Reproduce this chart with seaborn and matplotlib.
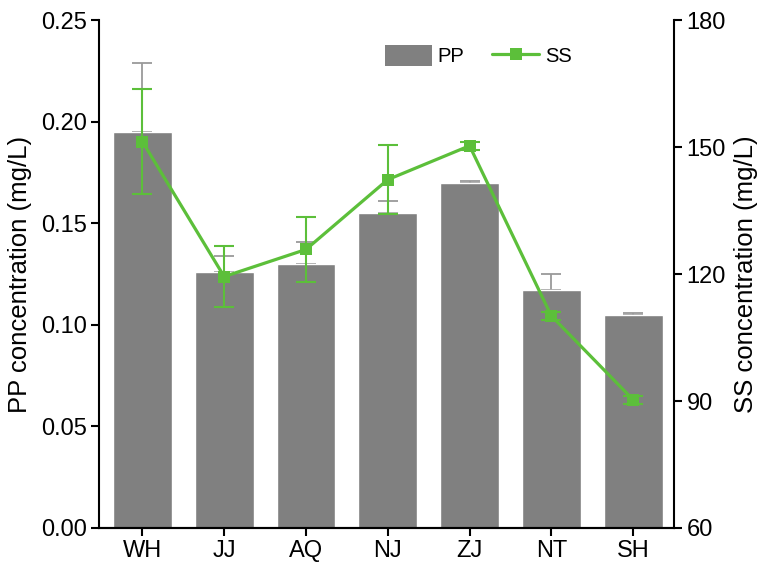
import matplotlib
matplotlib.use("Agg")
import matplotlib.pyplot as plt
import seaborn as sns
import pandas as pd
from matplotlib.patches import Patch
from matplotlib.lines import Line2D

sites = ["WH", "JJ", "AQ", "NJ", "ZJ", "NT", "SH"]
pp_mean = [0.195, 0.126, 0.130, 0.155, 0.170, 0.117, 0.105]
pp_err = [0.034, 0.008, 0.011, 0.006, 0.001, 0.008, 0.001]
ss_mean = [151.3, 119.4, 125.8, 142.3, 150.3, 110.1, 90.3]
ss_err = [12.3, 7.2, 7.7, 8.2, 1.0, 1.0, 1.0]

sns.set_theme(style="ticks")
plt.rcParams["font.family"] = ["Liberation Sans", "DejaVu Sans"]
plt.rcParams["text.color"] = "black"
plt.rcParams["axes.labelcolor"] = "black"

bar_color = "#808080"
green = "#5CBF3A"
tick_fs = 17
label_fs = 18.5

df = pd.DataFrame({"site": sites, "pp": pp_mean, "ss": ss_mean})

fig = plt.figure(figsize=(7.63, 5.65), dpi=100)
ax = fig.add_axes([0.1298, 0.0655, 0.7536, 0.899])

sns.barplot(data=df, x="site", y="pp", color=bar_color, saturation=1,
            width=0.72, ax=ax, zorder=2)
xpos = list(range(len(sites)))
ax.errorbar(xpos, pp_mean, yerr=[[0] * len(sites), pp_err], fmt="none",
            ecolor="#9a9a9a", elinewidth=1.3, capsize=7, capthick=1.3, zorder=1)

ax.set_ylim(0, 0.25)
ax.set_yticks([0.00, 0.05, 0.10, 0.15, 0.20, 0.25])
ax.set_yticklabels(["0.00", "0.05", "0.10", "0.15", "0.20", "0.25"])
ax.set_xlim(-0.53, 6.5)
ax.set_xlabel("")
ax.set_ylabel("PP concentration (mg/L)", fontsize=label_fs, labelpad=6,
              color="black")

ax2 = ax.twinx()
sns.lineplot(data=df, x="site", y="ss", ax=ax2, color=green, lw=2.3,
             marker="s", markersize=9, markeredgewidth=0, zorder=4)
ax2.errorbar(xpos, ss_mean, yerr=ss_err, fmt="none", ecolor=green,
             elinewidth=1.5, capsize=7, capthick=1.5, zorder=3)
ax2.set_ylim(60, 180)
ax2.set_yticks([60, 90, 120, 150, 180])
ax2.set_ylabel("SS concentration (mg/L)", fontsize=label_fs, labelpad=6,
               color="black")
ax2.set_xlim(-0.53, 6.5)

for a in (ax, ax2):
    a.spines["top"].set_visible(False)
    for s in ("left", "right", "bottom"):
        a.spines[s].set_linewidth(1.5)
        a.spines[s].set_color("black")
    a.tick_params(axis="both", direction="out", length=6, width=1.5,
                  labelsize=tick_fs, colors="black", pad=3)
ax2.spines["left"].set_visible(False)
ax.spines["right"].set_visible(False)

handles = [Patch(facecolor=bar_color, edgecolor="none", label="PP"),
           Line2D([0], [0], color=green, lw=2.3, marker="s", markersize=9,
                  markeredgewidth=0, label="SS")]
fig.legend(handles=handles, loc="center", bbox_to_anchor=(0.627, 0.901),
           ncol=2, frameon=False, fontsize=14.5, handlelength=2.3,
           handleheight=1.2, columnspacing=1.4, handletextpad=0.3,
           labelcolor="black")

fig.savefig("out.png", dpi=100)
